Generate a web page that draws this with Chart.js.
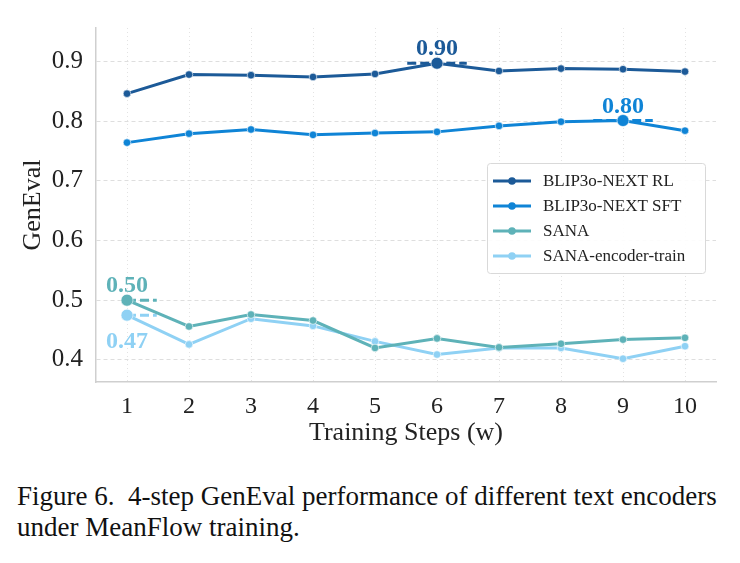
<!DOCTYPE html>
<html>
<head>
<meta charset="utf-8">
<script src="https://cdn.jsdelivr.net/npm/chart.js@4"></script>
<style>
  body { margin: 0; background: #fff; width: 740px; height: 563px; overflow: hidden; }
  #wrap { position: absolute; left: 0; top: 0; width: 740px; height: 460px; }
  #caption {
    position: absolute; left: 17px; top: 481px; width: 723px;
    font-family: "Liberation Serif", "DejaVu Serif", serif; font-size: 27px;
    line-height: 31px; color: #111; white-space: pre;
  }
</style>
</head>
<body>
<div id="wrap"><canvas id="chart" width="740" height="460"></canvas></div>
<div id="caption">Figure 6.  4-step GenEval performance of different text encoders
under MeanFlow training.</div>
<script>
// Dados
const steps = ['1', '2', '3', '4', '5', '6', '7', '8', '9', '10'];
const seriesNames = ['BLIP3o-NEXT RL', 'BLIP3o-NEXT SFT', 'SANA', 'SANA-encoder-train'];
const blipRL = [0.846, 0.878, 0.877, 0.874, 0.879, 0.897, 0.884, 0.888, 0.887, 0.883];
const blipSFT = [0.764, 0.779, 0.786, 0.777, 0.780, 0.782, 0.792, 0.799, 0.801, 0.784];
const sana = [0.500, 0.456, 0.476, 0.466, 0.420, 0.436, 0.421, 0.427, 0.434, 0.437];
const sanaEnc = [0.475, 0.426, 0.469, 0.457, 0.431, 0.409, 0.420, 0.420, 0.402, 0.423];
const yTicks = [0.4, 0.5, 0.6, 0.7, 0.8, 0.9];
// ponto destacado de cada série: índice, texto e lado do rótulo
const highlights = [
    { series: 0, index: 5, text: '0.90', below: false },
    { series: 1, index: 8, text: '0.80', below: false },
    { series: 2, index: 0, text: '0.50', below: false },
    { series: 3, index: 0, text: '0.47', below: true }
];

const colors = ['#1c5a98', '#0f84d6', '#5eb2b8', '#8fd1f4'];
const serif = '"Liberation Serif", "DejaVu Serif", serif';

function radiusFor(seriesIdx) {
    return ctx => highlights.some(h => h.series === seriesIdx && h.index === ctx.dataIndex) ? 6 : 3.8;
}

const allValues = [blipRL, blipSFT, sana, sanaEnc];
const datasets = allValues.map((vals, i) => ({
    label: seriesNames[i],
    data: vals,
    borderColor: colors[i],
    backgroundColor: colors[i],
    pointBackgroundColor: colors[i],
    pointBorderColor: '#ffffff',
    pointBorderWidth: 0.6,
    borderWidth: 3,
    pointRadius: radiusFor(i),
    tension: 0
}));

// Segmentos tracejados e rótulos das anotações
const annotationPlugin = {
    id: 'annotations',
    beforeDatasetsDraw(chart) {
        const ctx = chart.ctx;
        const x = chart.scales.x;
        const step = x.getPixelForValue(1) - x.getPixelForValue(0);
        ctx.save();
        highlights.forEach(h => {
            const pt = chart.getDatasetMeta(h.series).data[h.index];
            const left = h.index === 0 ? pt.x : pt.x - step * 0.48;
            ctx.strokeStyle = colors[h.series];
            ctx.lineWidth = 3;
            ctx.setLineDash([9, 4]);
            ctx.beginPath();
            ctx.moveTo(left, pt.y);
            ctx.lineTo(pt.x + step * 0.48, pt.y);
            ctx.stroke();
        });
        ctx.restore();
    },
    afterDatasetsDraw(chart) {
        const ctx = chart.ctx;
        ctx.save();
        ctx.font = 'bold 24px ' + serif;
        ctx.textAlign = 'center';
        highlights.forEach(h => {
            const pt = chart.getDatasetMeta(h.series).data[h.index];
            ctx.fillStyle = colors[h.series];
            if (h.below) {
                ctx.textBaseline = 'top';
                ctx.fillText(h.text, pt.x, pt.y + 15);
            } else {
                ctx.textBaseline = 'alphabetic';
                ctx.fillText(h.text, pt.x, pt.y - 8);
            }
        });
        ctx.restore();
    }
};

// Legenda desenhada dentro da área do gráfico
const legendPlugin = {
    id: 'boxLegend',
    afterDraw(chart) {
        const ctx = chart.ctx;
        const bx = 487, by = 163, bw = 218, bh = 110;
        ctx.save();
        ctx.fillStyle = 'rgba(255,255,255,0.9)';
        ctx.strokeStyle = '#d9d9d9';
        ctx.lineWidth = 1;
        ctx.beginPath();
        ctx.roundRect(bx + 0.5, by + 0.5, bw, bh, 3);
        ctx.fill();
        ctx.stroke();
        ctx.font = '17px ' + serif;
        ctx.textBaseline = 'middle';
        ctx.textAlign = 'left';
        chart.data.datasets.forEach((ds, i) => {
            const y = by + 18 + i * 25;
            ctx.strokeStyle = ds.borderColor;
            ctx.lineWidth = 3;
            ctx.beginPath();
            ctx.moveTo(bx + 6, y);
            ctx.lineTo(bx + 44, y);
            ctx.stroke();
            ctx.fillStyle = ds.borderColor;
            ctx.beginPath();
            ctx.arc(bx + 25, y, 3.8, 0, Math.PI * 2);
            ctx.fill();
            ctx.fillStyle = '#222';
            ctx.fillText(ds.label, bx + 56, y + 1);
        });
        ctx.restore();
    }
};

new Chart(document.getElementById('chart'), {
    type: 'line',
    data: { labels: steps, datasets: datasets },
    options: {
        responsive: false,
        animation: false,
        layout: { padding: { top: 22, right: 24, left: 0, bottom: 0 } },
        plugins: { legend: { display: false }, tooltip: { enabled: false } },
        scales: {
            x: {
                offset: true,
                grid: { offset: false, color: '#e3e3e3', lineWidth: 1, drawTicks: false },
                border: { display: true, color: '#cfcfcf', width: 1.5, dash: [1, 3] },
                ticks: { color: '#222', font: { family: serif, size: 24 }, padding: 10 },
                title: { display: true, text: 'Training Steps (w)', color: '#222', font: { family: serif, size: 26 }, padding: { top: 0, bottom: 11 } },
                afterFit: s => { s.height = 78; }
            },
            y: {
                min: 0.363,
                max: 0.956,
                grid: { color: '#dedede', lineWidth: 1, drawTicks: false },
                border: { display: true, color: '#cfcfcf', width: 1.5, dash: [4, 3] },
                afterBuildTicks: s => { s.ticks = yTicks.map(v => ({ value: v })); },
                ticks: { color: '#222', font: { family: serif, size: 25 }, padding: 13, callback: v => v.toFixed(1) },
                title: { display: true, text: 'GenEval', color: '#222', font: { family: serif, size: 26 }, padding: { top: 18, bottom: 0 } },
                afterFit: s => { s.width = 96; }
            }
        }
    },
    plugins: [annotationPlugin, legendPlugin]
});
</script>
</body>
</html>
